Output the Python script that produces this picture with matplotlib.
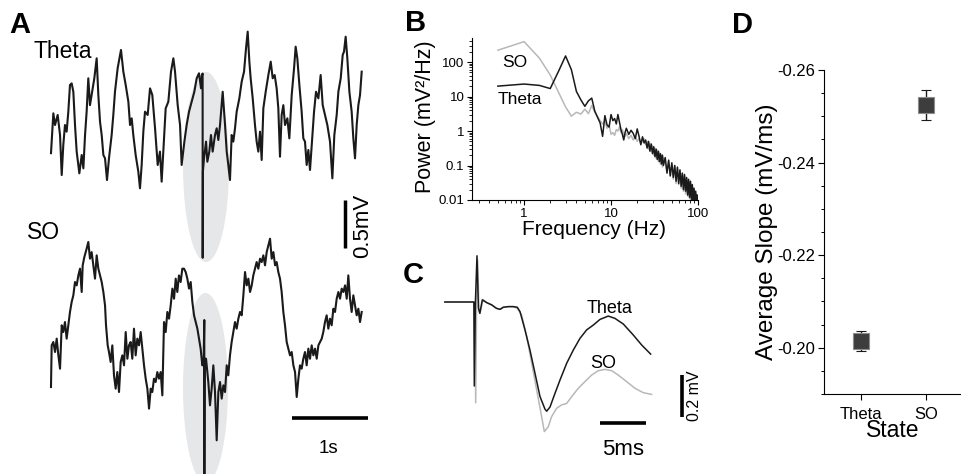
import numpy as np
import matplotlib
matplotlib.use('Agg')
import matplotlib.pyplot as plt
from matplotlib.patches import Ellipse
from matplotlib.ticker import FixedLocator, NullFormatter

plt.rcParams['font.family'] = ['Liberation Sans', 'DejaVu Sans']

# ---------------- DATA ----------------
# Panel A: theta-state LFP trace (s, mV)
theta_t = [0.013, 0.044, 0.066, 0.101, 0.132, 0.154, 0.175, 0.197, 0.219, 0.241, 0.263, 0.285,
           0.307, 0.329, 0.351, 0.386, 0.417, 0.439, 0.461, 0.482, 0.504, 0.526, 0.548, 0.583,
           0.614, 0.636, 0.658, 0.680, 0.702, 0.724, 0.750, 0.776, 0.811, 0.833, 0.855, 0.890,
           0.934, 0.965, 0.996, 1.031, 1.053, 1.075, 1.096, 1.127, 1.162, 1.184, 1.206, 1.228,
           1.250, 1.285, 1.316, 1.346, 1.382, 1.417, 1.447, 1.469, 1.491, 1.522, 1.557, 1.592,
           1.623, 1.645, 1.680, 1.711, 1.732, 1.768, 1.798, 1.829, 1.864, 1.899, 1.930, 1.960,
           1.987, 1.998, 2.008, 2.009, 2.012, 2.026, 2.053, 2.070, 2.096, 2.118, 2.140, 2.171,
           2.193, 2.215, 2.237, 2.272, 2.303, 2.325, 2.346, 2.368, 2.390, 2.412, 2.434, 2.456,
           2.491, 2.522, 2.553, 2.579, 2.601, 2.623, 2.640, 2.667, 2.697, 2.719, 2.741, 2.763,
           2.785, 2.807, 2.838, 2.873, 2.904, 2.930, 2.956, 2.982, 3.004, 3.026, 3.048, 3.070,
           3.092, 3.123, 3.149, 3.180, 3.211, 3.232, 3.254, 3.281, 3.311, 3.333, 3.355, 3.377,
           3.399, 3.421, 3.447, 3.474, 3.500, 3.531, 3.561, 3.588, 3.618, 3.649, 3.684, 3.715,
           3.741, 3.772, 3.794, 3.825, 3.851, 3.868, 3.890, 3.912, 3.939, 3.969, 3.991, 4.013,
           4.035, 4.057, 4.079, 4.101]
theta_v = [-0.210, 0.205, 0.083, 0.188, -0.021, -0.438, -0.125, 0.083, 0.014, 0.222, 0.500, 0.517,
           0.430, 0.083, -0.194, -0.420, -0.229, -0.368, -0.021, 0.222, 0.570, 0.290, 0.396, 0.570,
           0.778, 0.396, 0.118, -0.021, -0.229, -0.264, -0.490, -0.264, -0.021, 0.188, 0.430, 0.674,
           0.865, 0.639, 0.500, 0.326, 0.083, 0.153, -0.021, -0.229, -0.403, -0.576, -0.333, 0.014,
           0.222, 0.188, 0.465, 0.396, 0.049, -0.333, -0.194, -0.507, -0.194, 0.257, 0.326, 0.639,
           0.778, 0.639, 0.290, 0.083, -0.333, -0.090, 0.083, 0.222, 0.326, 0.430, 0.570, 0.622,
           0.465, 0.600, 0.620, -1.300, -0.400, -0.264, -0.090, -0.299, -0.194, -0.021, -0.194, -0.021,
           0.049, -0.073, 0.083, 0.430, 0.083, -0.194, -0.333, -0.490, -0.021, -0.090, 0.049, 0.222,
           0.361, 0.535, 0.639, 0.882, 1.056, 0.743, 0.570, 0.361, 0.083, -0.090, -0.194, 0.014,
           -0.281, 0.257, 0.430, 0.604, 0.743, 0.570, 0.604, 0.465, 0.257, -0.247, 0.188, 0.290,
           0.083, 0.153, -0.056, 0.396, 0.674, 0.899, 0.778, 0.500, 0.222, -0.056, -0.090, -0.333,
           -0.177, -0.385, -0.090, 0.222, 0.430, 0.361, 0.604, 0.290, 0.188, 0.083, -0.090, -0.472,
           -0.021, 0.188, 0.430, 0.570, 0.813, 0.847, 1.003, 0.778, 0.430, 0.222, -0.056, -0.264,
           0.083, 0.290, 0.396, 0.639]

# Panel A: slow-oscillation trace (s, mV)
so_t = [0.013, 0.022, 0.044, 0.066, 0.088, 0.110, 0.132, 0.154, 0.175, 0.197, 0.219, 0.241,
        0.263, 0.285, 0.307, 0.329, 0.351, 0.373, 0.395, 0.417, 0.430, 0.452, 0.482, 0.504,
        0.526, 0.548, 0.570, 0.592, 0.614, 0.636, 0.658, 0.680, 0.702, 0.724, 0.737, 0.759,
        0.776, 0.798, 0.820, 0.842, 0.864, 0.886, 0.908, 0.930, 0.952, 0.974, 0.996, 1.018,
        1.039, 1.061, 1.083, 1.105, 1.127, 1.149, 1.171, 1.193, 1.215, 1.237, 1.259, 1.281,
        1.303, 1.325, 1.346, 1.368, 1.390, 1.412, 1.434, 1.456, 1.478, 1.500, 1.522, 1.544,
        1.566, 1.588, 1.610, 1.632, 1.654, 1.675, 1.697, 1.719, 1.741, 1.763, 1.785, 1.807,
        1.829, 1.851, 1.873, 1.895, 1.917, 1.939, 1.961, 1.982, 2.004, 2.022, 2.030, 2.031,
        2.034, 2.053, 2.083, 2.105, 2.127, 2.149, 2.171, 2.193, 2.215, 2.237, 2.259, 2.281,
        2.303, 2.325, 2.346, 2.368, 2.390, 2.412, 2.434, 2.456, 2.478, 2.500, 2.522, 2.544,
        2.566, 2.588, 2.610, 2.632, 2.654, 2.675, 2.697, 2.719, 2.741, 2.763, 2.785, 2.807,
        2.829, 2.851, 2.873, 2.895, 2.917, 2.939, 2.961, 2.982, 3.004, 3.026, 3.048, 3.070,
        3.092, 3.114, 3.136, 3.158, 3.180, 3.202, 3.224, 3.246, 3.268, 3.289, 3.311, 3.333,
        3.355, 3.377, 3.399, 3.421, 3.443, 3.465, 3.487, 3.509, 3.531, 3.553, 3.575, 3.596,
        3.618, 3.640, 3.662, 3.684, 3.706, 3.728, 3.750, 3.772, 3.794, 3.816, 3.838, 3.860,
        3.882, 3.904, 3.925, 3.947, 3.969, 3.991, 4.013, 4.035, 4.057, 4.079, 4.101]
so_v = [-0.594, -0.160, -0.125, -0.229, -0.090, -0.264, -0.403, 0.049, -0.021, 0.083, -0.090, 0.049,
        0.188, 0.292, 0.361, 0.500, 0.465, 0.569, 0.639, 0.396, 0.674, 0.760, 0.847, 0.917,
        0.743, 0.812, 0.674, 0.535, 0.778, 0.639, 0.569, 0.500, 0.396, 0.257, 0.049, -0.160,
        -0.229, -0.333, -0.160, -0.472, -0.611, -0.438, -0.646, -0.333, -0.264, -0.368, -0.021, -0.299,
        -0.160, -0.125, -0.299, 0.014, -0.264, -0.090, -0.160, -0.021, -0.194, -0.368, -0.507, -0.611,
        -0.819, -0.611, -0.646, -0.507, -0.542, -0.438, -0.507, -0.438, -0.681, 0.083, -0.021, 0.188,
        0.118, 0.257, 0.431, 0.326, 0.535, 0.396, 0.569, 0.500, 0.639, 0.639, 0.604, 0.535,
        0.431, 0.500, 0.292, 0.153, 0.083, 0.014, -0.090, -0.194, -0.368, -0.299, 0.104, -1.550,
        -0.300, -0.299, -0.542, -0.785, -0.611, -0.368, -0.646, -1.149, -0.646, -0.542, -0.715, -0.576,
        -0.646, -0.368, -0.472, -0.264, -0.125, -0.021, 0.083, 0.014, 0.118, 0.188, 0.153, 0.361,
        0.604, 0.465, 0.535, 0.396, 0.465, 0.569, 0.639, 0.708, 0.639, 0.743, 0.708, 0.778,
        0.674, 0.812, 0.882, 0.951, 0.743, 0.812, 0.674, 0.708, 0.604, 0.535, 0.396, 0.188,
        0.049, -0.125, -0.194, -0.264, -0.229, -0.368, -0.438, -0.698, -0.507, -0.368, -0.403, -0.299,
        -0.229, -0.368, -0.194, -0.299, -0.160, -0.264, -0.194, -0.299, -0.160, -0.125, -0.090, -0.021,
        0.083, 0.153, 0.014, 0.118, 0.049, 0.222, 0.188, 0.326, 0.396, 0.326, 0.431, 0.396,
        0.465, 0.326, 0.569, 0.326, 0.188, 0.361, 0.257, 0.153, 0.222, 0.083, 0.188]

# Panel B: power spectra (Hz, mV^2/Hz)
freq = np.concatenate([np.arange(0.5, 15.01, 0.5), np.arange(16, 40.5, 1), np.arange(42, 100.5, 2)])
pow_theta = [20, 23, 21, 17, 55, 150, 60, 14, 8, 5.2, 7.5, 9.0, 3.8, 2.5, 1.7, 0.7, 2.8, 1.5, 1.3, 3.0,
             2.0, 2.3, 1.6, 3.0, 1.8, 1.1, 0.8, 0.55, 0.9, 1.2,
             0.8, 1.05, 0.85, 0.6, 1.15, 0.7, 0.4, 0.68, 0.45, 0.55, 0.32, 0.5, 0.26, 0.42, 0.22,
             0.35, 0.18, 0.3, 0.15, 0.26, 0.13, 0.22, 0.11, 0.2, 0.1,
             0.17, 0.06, 0.14, 0.05, 0.12, 0.045, 0.1, 0.035, 0.09, 0.03, 0.075, 0.025, 0.06, 0.02, 0.055,
             0.018, 0.045, 0.014, 0.04, 0.012, 0.035, 0.0105, 0.028, 0.0095, 0.022, 0.009, 0.018, 0.0085,
             0.014, 0.01]
pow_so = [220, 390, 130, 42, 13, 5, 2.7, 3.5, 3.1, 4.3, 3.2, 5.5, 3.5, 2.6, 2.0, 1.6, 1.9, 1.2, 1.5, 0.8,
          0.9, 0.75, 1.1, 1.0, 1.3, 0.9, 1.1, 0.8, 0.7, 0.85,
          0.6, 0.75, 0.55, 0.7, 0.5, 0.6, 0.45, 0.5, 0.6, 0.4, 0.5, 0.3, 0.45, 0.25, 0.38,
          0.2, 0.32, 0.16, 0.28, 0.13, 0.24, 0.11, 0.2, 0.09, 0.17,
          0.12, 0.07, 0.15, 0.05, 0.11, 0.04, 0.1, 0.03, 0.085, 0.028, 0.07, 0.022, 0.06, 0.018, 0.05,
          0.015, 0.042, 0.013, 0.035, 0.011, 0.03, 0.01, 0.025, 0.01, 0.02, 0.009, 0.016, 0.0095,
          0.013, 0.011]

# Panel C: evoked field potentials (ms, mV)
evk_theta_t = [-3.2, -0.55, -0.05, 0.0, 0.12, 0.29, 0.45, 0.60, 0.87, 1.35, 1.90, 2.40, 2.80, 3.15,
               3.70, 4.24, 4.67, 4.97, 5.51, 6.05, 6.60, 7.14, 7.68, 7.87, 8.23, 8.77, 9.32, 10.04,
               10.76, 11.49, 12.21, 12.93, 13.66, 14.56, 15.29, 16.20, 17.28, 18.20, 19.17]
evk_theta_v = [0.0, 0.0, 0.0, -0.40, 0.0, 0.22, -0.03, -0.054, 0.01, -0.003, -0.014, -0.030, -0.035,
               -0.025, -0.022, -0.022, -0.025, -0.046, -0.133, -0.229, -0.340, -0.450, -0.510, -0.520,
               -0.500, -0.435, -0.371, -0.292, -0.229, -0.173, -0.133, -0.110, -0.083, -0.067, -0.078,
               -0.105, -0.157, -0.205, -0.248]
evk_so_t = [-3.2, -0.55, 0.05, 0.15, 0.25, 0.37, 0.50, 0.62, 0.95, 1.35, 1.90, 2.40, 2.80, 3.15, 3.70,
            4.24, 4.67, 5.15, 5.70, 6.24, 6.78, 7.32, 7.61, 8.04, 8.40, 8.95, 9.49, 10.04, 10.58,
            11.30, 12.03, 12.75, 13.48, 14.20, 14.93, 15.65, 16.56, 17.47, 18.38, 19.28]
evk_so_v = [0.0, 0.0, 0.0, -0.48, 0.0, 0.20, -0.03, -0.054, 0.012, -0.003, -0.014, -0.030, -0.035,
            -0.025, -0.022, -0.022, -0.030, -0.062, -0.165, -0.292, -0.419, -0.546, -0.617, -0.594,
            -0.546, -0.506, -0.490, -0.483, -0.451, -0.411, -0.379, -0.348, -0.327, -0.321, -0.327,
            -0.348, -0.379, -0.411, -0.432, -0.440]

# Panel D: average slope
states = ['Theta', 'SO']
slope_mean = [-0.2015, -0.2524]
slope_sem = [0.0022, 0.0032]

# ---------------- FIGURE ----------------
W, H = 962, 474
fig = plt.figure(figsize=(W / 100, H / 100), dpi=100)


def axes_px(l, t, r, b):
    return fig.add_axes([l / W, 1 - b / H, (r - l) / W, (b - t) / H])


def ftext(x, y, s, **kw):
    return fig.text(x / W, 1 - y / H, s, **kw)


BLACK = '#1a1a1a'
GREY = '#b8b8b8'
ELL = '#e6e7e8'

# ---- Panel A ----
axA1 = axes_px(45, 25, 375, 270)
axA1.set_xlim(-0.0658, 4.276)
axA1.set_ylim(-1.427, 1.125)
axA1.axis('off')
axA1.add_patch(Ellipse((2.053, -0.354), 0.605, 1.98, fc=ELL, ec='none', zorder=0))
axA1.plot(theta_t, theta_v, color=BLACK, lw=1.5, zorder=2)
axA1.plot([3.88, 3.88], [-0.698, -1.198], color='k', lw=2.5, solid_capstyle='butt')

axA2 = axes_px(45, 232, 375, 474)
axA2.set_xlim(-0.0658, 4.276)
axA2.set_ylim(-1.5, 1.021)
axA2.axis('off')
axA2.add_patch(Ellipse((2.046, -0.604), 0.592, 1.98, fc=ELL, ec='none', zorder=0))
axA2.plot(so_t, so_v, color=BLACK, lw=1.5, zorder=2)
axA2.plot([3.184, 4.184], [-0.917, -0.917], color='k', lw=2.6, solid_capstyle='butt')

ftext(20, 25, 'A', fontsize=21, fontweight='bold', ha='center', va='center')
ftext(33, 58, 'Theta', fontsize=16.5, ha='left', va='baseline')
ftext(27, 239, 'SO', fontsize=16.5, ha='left', va='baseline')
ftext(363, 226, '0.5mV', fontsize=16, rotation=90, ha='center', va='center')
ftext(328, 453, '1s', fontsize=13.5, ha='center', va='baseline')

# ---- Panel B ----
axB = axes_px(472, 38, 698, 200)
axB.plot(freq, pow_so, color=GREY, lw=1.1)
axB.plot(freq, pow_theta, color=BLACK, lw=1.1)
axB.set_xscale('log')
axB.set_yscale('log')
axB.set_xlim(0.252, 100)
axB.set_ylim(0.01, 497)
for s in ['top', 'right']:
    axB.spines[s].set_visible(False)
axB.set_xticks([1, 10, 100])
axB.set_xticklabels(['1', '10', '100'])
axB.set_yticks([0.01, 0.1, 1, 10, 100])
axB.set_yticklabels(['0.01', '0.1', '1', '10', '100'])
axB.tick_params(which='major', labelsize=9.5, length=3.5, width=0.8, pad=2)
axB.tick_params(which='minor', length=2, width=0.6)
axB.yaxis.set_minor_formatter(NullFormatter())
axB.xaxis.set_minor_formatter(NullFormatter())
ftext(416, 23, 'B', fontsize=21, fontweight='bold', ha='center', va='center')
ftext(502, 67, 'SO', fontsize=12.5, ha='left', va='baseline')
ftext(498, 104, 'Theta', fontsize=12.5, ha='left', va='baseline')
ftext(426, 117, 'Power (mV²/Hz)', fontsize=15.5, rotation=90, ha='center', va='center')
ftext(594, 235, 'Frequency (Hz)', fontsize=15, ha='center', va='baseline')

# ---- Panel C ----
axC = axes_px(440, 250, 705, 474)
axC.set_xlim(-3.73, 25.08)
axC.set_ylim(-0.819, 0.2476)
axC.axis('off')
axC.plot(evk_so_t, evk_so_v, color=GREY, lw=1.1)
axC.plot(evk_theta_t, evk_theta_v, color=BLACK, lw=1.1)
axC.plot([13.66, 18.66], [-0.576, -0.576], color='k', lw=2.6, solid_capstyle='butt')
axC.plot([22.58, 22.58], [-0.348, -0.548], color='k', lw=2.6, solid_capstyle='butt')
ftext(413, 275, 'C', fontsize=21, fontweight='bold', ha='center', va='center')
ftext(587, 313, 'Theta', fontsize=13, ha='left', va='baseline')
ftext(590, 368, 'SO', fontsize=13, ha='left', va='baseline')
ftext(623, 455, '5ms', fontsize=16, ha='center', va='baseline')
ftext(695, 396, '0.2 mV', fontsize=11.5, rotation=90, ha='center', va='center')

# ---- Panel D ----
axD = axes_px(824, 70, 962, 394)
xpos = np.arange(len(states))
axD.errorbar(xpos, slope_mean, yerr=slope_sem, fmt='s', color='#3d3d3d', mec='#8c8c8c', mew=0.8,
             ms=11, ecolor=BLACK, elinewidth=1.0, capsize=3.5, capthick=1.0)
axD.set_xlim(-0.569, 1.554)
axD.set_ylim(-0.19, -0.26)
for s in ['top', 'right']:
    axD.spines[s].set_visible(False)
axD.set_xticks(xpos)
axD.set_xticklabels(states)
axD.set_yticks([-0.26, -0.24, -0.22, -0.20])
axD.set_yticklabels(['-0.26', '-0.24', '-0.22', '-0.20'])
axD.yaxis.set_minor_locator(FixedLocator([-0.255, -0.25, -0.245, -0.235, -0.23, -0.225, -0.215,
                                          -0.21, -0.205, -0.195, -0.19]))
axD.tick_params(which='major', labelsize=12, length=4.5, width=0.8, pad=2)
axD.tick_params(axis='x', pad=5)
axD.tick_params(which='minor', length=2.5, width=0.7)
ftext(743, 25, 'D', fontsize=21, fontweight='bold', ha='center', va='center')
ftext(767, 232, 'Average Slope (mV/ms)', fontsize=17.5, rotation=90, ha='center', va='center')
ftext(893, 437, 'State', fontsize=16.5, ha='center', va='baseline')

fig.savefig('out.png', dpi=100)
